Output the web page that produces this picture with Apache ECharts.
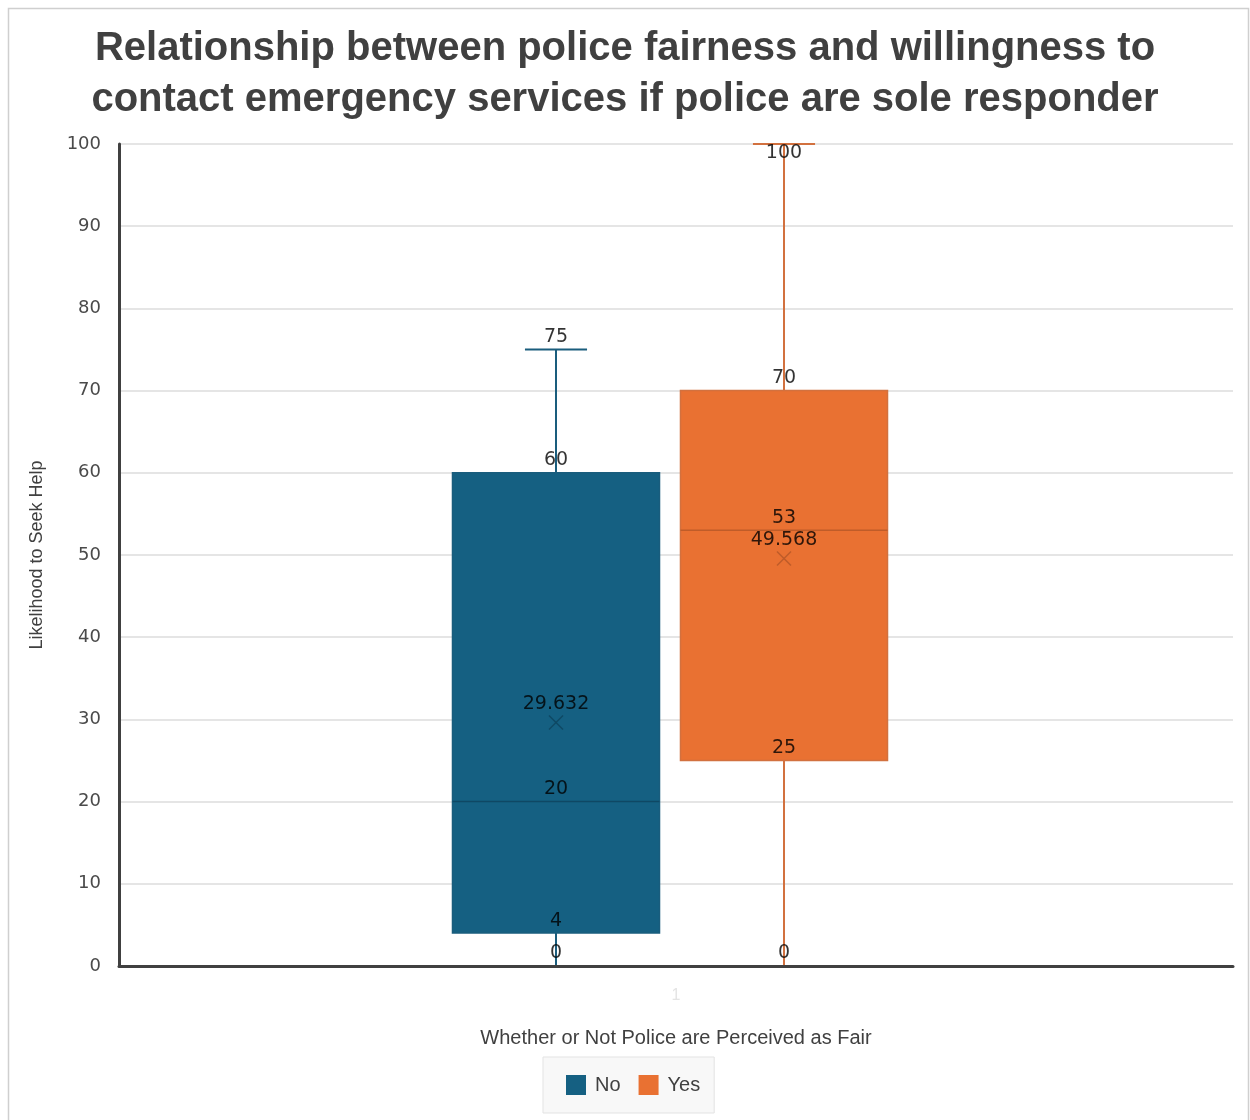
<!DOCTYPE html>
<html>
<head>
<meta charset="utf-8">
<script src="https://cdn.jsdelivr.net/npm/echarts@6/dist/echarts.min.js"></script>
<style>
  html, body { margin: 0; padding: 0; background: #fff; }
  #main { width: 1250px; height: 1120px; }
</style>
</head>
<body>
<div id="main"></div>
<script>
// box plot stats
var groups = ['No', 'Yes'];
var minVals = [0, 0];
var q1Vals = [4, 25];
var medianVals = [20, 53];
var q3Vals = [60, 70];
var maxVals = [75, 100];
var meanVals = [29.632, 49.568];
var yTicks = [0, 10, 20, 30, 40, 50, 60, 70, 80, 90, 100];

var fillColors = ['#156082', '#E97132'];
var lineColors = ['#1a5d7d', '#d2713f'];
var darkColors = ['#0f4864', '#bf5c29'];

var myChart = echarts.init(document.getElementById('main'));

function boxSeries(i) {
  return {
    name: groups[i],
    type: 'custom',
    xAxisIndex: 1,
    yAxisIndex: 1,
    itemStyle: { color: fillColors[i] },
    data: [[i, minVals[i], q1Vals[i], medianVals[i], q3Vals[i], maxVals[i], meanVals[i]]],
    renderItem: function (params, api) {
      var idx = api.value(0);
      var pMin = api.coord([idx, api.value(1)]);
      var pQ1 = api.coord([idx, api.value(2)]);
      var pMed = api.coord([idx, api.value(3)]);
      var pQ3 = api.coord([idx, api.value(4)]);
      var pMax = api.coord([idx, api.value(5)]);
      var pMean = api.coord([idx, api.value(6)]);
      var bw = api.size([1, 0])[0] * 0.908;
      var cap = bw * 0.3;
      var x = pMed[0];
      var ls = { stroke: lineColors[i], lineWidth: 2 };
      var m = 7;
      return {
        type: 'group',
        children: [
          { type: 'line', shape: { x1: x, y1: pQ3[1], x2: x, y2: pMax[1] }, style: ls },
          { type: 'line', shape: { x1: x, y1: pQ1[1], x2: x, y2: pMin[1] }, style: ls },
          { type: 'line', shape: { x1: x - cap / 2, y1: pMax[1], x2: x + cap / 2, y2: pMax[1] }, style: ls },
          { type: 'line', shape: { x1: x - cap / 2, y1: pMin[1], x2: x + cap / 2, y2: pMin[1] }, style: ls },
          { type: 'rect', shape: { x: x - bw / 2, y: pQ3[1], width: bw, height: pQ1[1] - pQ3[1] },
            style: { fill: fillColors[i], stroke: lineColors[i], lineWidth: 1.5 } },
          { type: 'line', shape: { x1: x - bw / 2, y1: pMed[1], x2: x + bw / 2, y2: pMed[1] },
            style: { stroke: darkColors[i], lineWidth: 1.5 } },
          { type: 'line', shape: { x1: x - m, y1: pMean[1] - m, x2: x + m, y2: pMean[1] + m },
            style: { stroke: darkColors[i], lineWidth: 1.5 } },
          { type: 'line', shape: { x1: x - m, y1: pMean[1] + m, x2: x + m, y2: pMean[1] - m },
            style: { stroke: darkColors[i], lineWidth: 1.5 } }
        ]
      };
    }
  };
}

// value labels
var labelData = [];
for (var i = 0; i < groups.length; i++) {
  var stats = [minVals[i], q1Vals[i], medianVals[i], q3Vals[i], maxVals[i]];
  stats.forEach(function (v) {
    var item = { value: [i, v] };
    if (v === 100) item.label = { position: 'bottom', distance: 0 };
    labelData.push(item);
  });
  labelData.push({ value: [i, meanVals[i]], label: { distance: 9 } });
}

var option = {
  animation: false,
  backgroundColor: '#fff',
  graphic: [{
    type: 'rect',
    shape: { x: 8.5, y: 8.5, width: 1240, height: 1130 },
    style: { fill: 'none', stroke: '#cfcfcf', lineWidth: 1.5 },
    silent: true
  }],
  title: {
    text: 'Relationship between police fairness and willingness to\ncontact emergency services if police are sole responder',
    left: 'center',
    top: 18,
    textStyle: {
      fontFamily: 'Liberation Sans',
      fontWeight: 'bold',
      fontSize: 40,
      lineHeight: 51,
      color: '#404040'
    }
  },
  legend: {
    data: groups,
    top: 1057,
    left: 543,
    icon: 'rect',
    itemWidth: 20,
    itemHeight: 20,
    itemGap: 18,
    padding: [18, 14, 18, 23],
    backgroundColor: '#f8f8f8',
    borderColor: '#e3e3e3',
    borderWidth: 1,
    textStyle: { fontFamily: 'Liberation Sans', fontSize: 20, color: '#404040', padding: [0, 0, 0, 4] }
  },
  grid: [
    { left: 119, right: 17, top: 144, bottom: 154 },
    { left: 442, right: 352, top: 144, bottom: 154 }
  ],
  xAxis: [{
    type: 'category',
    gridIndex: 0,
    z: 10,
    data: ['1'],
    name: 'Whether or Not Police are Perceived as Fair',
    nameLocation: 'middle',
    nameGap: 62,
    nameTextStyle: { fontFamily: 'Liberation Sans', fontSize: 20, color: '#404040' },
    axisLine: { lineStyle: { color: '#404040', width: 3 } },
    axisTick: { show: false },
    axisLabel: { margin: 22, fontSize: 16, color: '#e4e4e4', fontFamily: 'Liberation Sans' }
  }, {
    type: 'category',
    gridIndex: 1,
    data: groups,
    show: false
  }],
  yAxis: [{
    type: 'value',
    gridIndex: 0,
    min: yTicks[0],
    max: yTicks[yTicks.length - 1],
    interval: 10,
    name: 'Likelihood to Seek Help',
    nameLocation: 'middle',
    nameGap: 73,
    nameRotate: 90,
    nameTextStyle: { fontFamily: 'Liberation Sans', fontSize: 18, color: '#404040' },
    axisLine: { show: true, lineStyle: { color: '#404040', width: 3 } },
    axisTick: { show: false },
    axisLabel: { margin: 18, fontFamily: 'DejaVu Sans', fontSize: 18, color: '#4a4a4a' },
    splitLine: { lineStyle: { color: '#dcdcdc', width: 1.5 } }
  }, {
    type: 'value',
    gridIndex: 1,
    min: yTicks[0],
    max: yTicks[yTicks.length - 1],
    show: false
  }],
  series: [
    boxSeries(0),
    boxSeries(1),
    {
      name: 'labels',
      type: 'scatter',
      xAxisIndex: 1,
      yAxisIndex: 1,
      symbolSize: 0,
      silent: true,
      z: 5,
      data: labelData,
      label: {
        show: true,
        position: 'top',
        distance: 3,
        fontFamily: 'DejaVu Sans',
        fontSize: 19,
        color: '#000',
        formatter: function (p) { return String(p.value[1]); }
      }
    }
  ]
};

myChart.setOption(option);
</script>
</body>
</html>
